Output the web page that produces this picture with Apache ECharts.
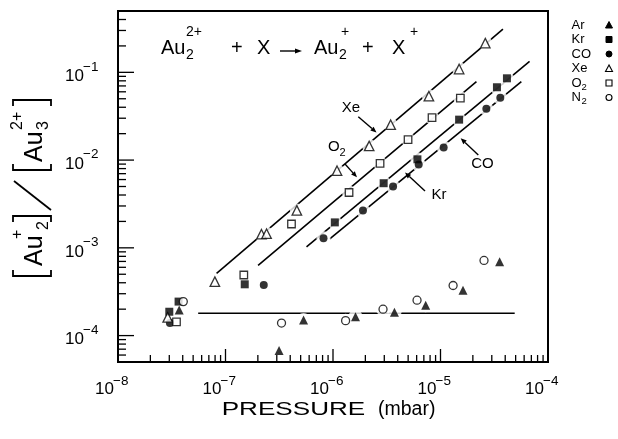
<!DOCTYPE html>
<html><head><meta charset="utf-8">
<script src="https://cdn.jsdelivr.net/npm/echarts@6/dist/echarts.min.js"></script>
<style>html,body{margin:0;padding:0;background:#fff}#c{width:618px;height:439px}</style>
</head><body><div id="c"></div>
<script>
// ---------- data ----------
const xMin = 1e-8, xMax = 1e-4, yMin = 5e-5, yMax = 0.5;
const xMajor = [1e-8, 1e-7, 1e-6, 1e-5, 1e-4];
const xLabelExp = ['−8', '−7', '−6', '−5', '−4'];
const yMajor = [1e-4, 1e-3, 1e-2, 1e-1];
const yLabelExp = ['−4', '−3', '−2', '−1'];
const xDecades = [1e-8, 1e-7, 1e-6, 1e-5];
const yDecades = [1e-5, 1e-4, 1e-3, 1e-2, 1e-1];
const minorMult = [2, 3, 4, 5, 6, 7, 8, 9];

const ArData = [[3.71e-8,1.96e-4],[3.15e-7,6.74e-5],[5.32e-7,1.51e-4],[1.62e-6,1.64e-4],[3.73e-6,1.84e-4],[7.28e-6,2.22e-4],[1.62e-5,3.28e-4],[3.55e-5,6.93e-4]];
const KrData = [[3.0e-8,1.87e-4],[3.66e-8,2.44e-4],[1.51e-7,3.84e-4],[1.04e-6,1.95e-3],[2.96e-6,5.45e-3],[6.1e-6,1.02e-2],[1.49e-5,2.89e-2],[3.35e-5,6.76e-2],[4.15e-5,8.55e-2]];
const COData = [[3.04e-8,1.39e-4],[2.27e-7,3.77e-4],[8.16e-7,1.285e-3],[1.9e-6,2.67e-3],[3.62e-6,4.99e-3],[6.27e-6,8.93e-3],[1.07e-5,1.39e-2],[2.67e-5,3.85e-2],[3.6e-5,5.13e-2]];
const XeData = [[2.9e-8,1.61e-4],[7.96e-8,4.12e-4],[2.16e-7,1.43e-3],[2.41e-7,1.45e-3],[4.61e-7,2.67e-3],[1.09e-6,7.57e-3],[2.17e-6,1.45e-2],[3.44e-6,2.53e-2],[7.8e-6,5.35e-2],[1.49e-5,0.109],[2.61e-5,0.215]];
const O2Data = [[3.5e-8,1.43e-4],[1.48e-7,4.9e-4],[4.11e-7,1.87e-3],[1.41e-6,4.27e-3],[2.74e-6,9.18e-3],[4.99e-6,1.715e-2],[8.34e-6,3.05e-2],[1.53e-5,5.08e-2]];
const N2Data = [[4.05e-8,2.44e-4],[3.32e-7,1.39e-4],[1.31e-6,1.48e-4],[2.92e-6,2.0e-4],[6.05e-6,2.53e-4],[1.31e-5,3.72e-4],[2.54e-5,7.18e-4]];

const XeLine = [[8.26e-8,5.12e-4],[3.81e-5,0.31]];
const O2Line = [[2.01e-7,6.31e-4],[2.16e-5,7.85e-2]];
const KrLine = [[5.67e-7,1.026e-3],[6.74e-5,0.133]];
const COLine = [[9.33e-7,1.265e-3],[5.65e-5,7.85e-2]];
const FlatLine = [[5.57e-8,1.8e-4],[4.9e-5,1.8e-4]];

// ---------- build ----------
const FONT = '"Liberation Sans", Arial, sans-serif';
const ticks = [];
xMajor.forEach(v => ticks.push([v, yMin, 0, 1]));
xDecades.forEach(d => minorMult.forEach(m => ticks.push([d*m, yMin, 0, 0])));
yMajor.forEach(v => ticks.push([xMin, v, 1, 1]));
yDecades.forEach(d => minorMult.forEach(m => { const v = d*m; if (v > yMin*1.01 && v < yMax*0.99) ticks.push([xMin, v, 1, 0]); }));
const labels = [];
xMajor.forEach((v,i) => labels.push([v, yMin, 0, i]));
yMajor.forEach((v,i) => labels.push([xMin, v, 1, i]));

function txt(t, x, y, size, align, extra) {
  return Object.assign({type:'text', x:x, y:y, z:20, silent:true,
    style:{text:t, font:size+'px '+FONT, fill:'#000', textAlign:align||'left', textVerticalAlign:'middle', align:align||'left', verticalAlign:'middle'}}, extra||{});
}
function arrow(x1,y1,x2,y2,head,hw){
  head = head||6; hw = hw||2.5;
  const dx=x2-x1, dy=y2-y1, L=Math.hypot(dx,dy), ux=dx/L, uy=dy/L;
  const bx=x2-ux*head, by=y2-uy*head;
  return [
    {type:'line', z:20, silent:true, shape:{x1:x1,y1:y1,x2:bx,y2:by}, style:{stroke:'#000',lineWidth:1.4}},
    {type:'polygon', z:20, silent:true, shape:{points:[[x2,y2],[bx-uy*hw,by+ux*hw],[bx+uy*hw,by-ux*hw]]}, style:{fill:'#000'}}
  ];
}
function pl(points){ return {type:'polyline', silent:true, shape:{points:points}, style:{stroke:'#000', lineWidth:1.8, fill:null}}; }

const open = {color:'#fff', borderColor:'#000', borderWidth:1.3};
const filled = {color:'#000', borderColor:'#000', borderWidth:0};
function scatter(name, data, symbol, size, style){
  return {name:name, type:'scatter', data:data, symbol:symbol, symbolSize:size, itemStyle:style, z:4, silent:true};
}
function line(data){
  return {type:'line', data:data, symbol:'none', lineStyle:{color:'#000', width:1.6}, z:2, silent:true};
}

const graphic = [];
// equation
graphic.push(txt('Au',161,48,20), txt('2',186,55.5,14), txt('2+',186,32,14), txt('+',231,48,20), txt('X',257,48,20));
graphic.push(...arrow(280,51,302,51,7,2.5));
graphic.push(txt('Au',314,48,20), txt('2',339,55.5,14), txt('+',341,32,14), txt('+',362,48,20), txt('X',392,48,20), txt('+',410,32,14));
// annotations
graphic.push(txt('Xe',351,108,15,'center'), txt('O',328,147,15), txt('2',339.5,153,11), txt('Kr',439,195,15,'center'), txt('CO',482.5,164,15,'center'));
graphic.push(...arrow(358.3,116.7,376.5,132.5), ...arrow(345,164,357,177.3), ...arrow(425,191,405,172.5), ...arrow(478.3,155,460.7,138.3));
// x axis title
graphic.push(txt('PRESSURE',221.7,409.5,18.5,'left',{scaleX:1.41}), txt('(mbar)',378,409.5,19.5));
// y axis title (rotated group)
graphic.push({type:'group', x:32, y:190, rotation:Math.PI/2, z:20, children:[
  pl([[-80,-19],[-86,-19],[-86,19],[-80,19]]),
  txt('Au',-76,3,25), txt('2',-40,12,16), txt('+',-49,-14,16),
  pl([[-32,-19],[-26,-19],[-26,19],[-32,19]]),
  pl([[-20,19],[9,-18]]),
  pl([[26,-19],[20,-19],[20,19],[26,19]]),
  txt('Au',28,3,25), txt('3',60,12,16), txt('2+',60,-14,16),
  pl([[84,-19],[90,-19],[90,19],[84,19]])
]});
// legend
const legRows = [['Ar','','tri',true],['Kr','','sq',true],['CO','','ci',true],['Xe','','tri',false],['O','2','sq',false],['N','2','ci',false]];
const legY = [25,39.5,54,68.5,83,97.5];
legRows.forEach((r,i)=>{
  const y = legY[i];
  graphic.push(txt(r[0],571.5,y,13));
  if (r[1]) graphic.push(txt(r[1],581.5,y+4,9.5));
  const st = r[3] ? {fill:'#000', stroke:'#000', lineWidth:1} : {fill:'#fff', stroke:'#000', lineWidth:1.1};
  if (r[2]==='tri') graphic.push({type:'polygon', z:20, shape:{points:[[609,y-3.5],[605.5,y+3],[612.5,y+3]]}, style:st});
  if (r[2]==='sq') graphic.push({type:'rect', z:20, shape:{x:606,y:y-3,width:6,height:6}, style:st});
  if (r[2]==='ci') graphic.push({type:'circle', z:20, shape:{cx:609,cy:y,r:3}, style:st});
});

const allPts = [].concat(ArData, KrData, COData, XeData, O2Data, N2Data);

const chart = echarts.init(document.getElementById('c'), null, {renderer:'canvas'});
chart.setOption({
  animation:false,
  backgroundColor:'#fff',
  grid:{left:118, right:70, top:11, bottom:77, show:true, borderColor:'#000', borderWidth:2, backgroundColor:'transparent'},
  xAxis:{type:'log', logBase:10, min:xMin, max:xMax, axisLabel:{show:false}, axisTick:{show:false}, splitLine:{show:false}, axisLine:{lineStyle:{color:'#000', width:2}}},
  yAxis:{type:'log', logBase:10, min:yMin, max:yMax, axisLabel:{show:false}, axisTick:{show:false}, splitLine:{show:false}, axisLine:{lineStyle:{color:'#000', width:2}}},
  graphic: graphic,
  series:[
    line(XeLine), line(O2Line), line(KrLine), line(COLine), line(FlatLine),
    {type:'scatter', data:allPts, symbol:'circle', symbolSize:14, itemStyle:{color:'#fff'}, z:3, silent:true},
    scatter('Ar', ArData, 'triangle', 9, filled),
    scatter('Kr', KrData, 'rect', 8, filled),
    scatter('CO', COData, 'circle', 8, filled),
    scatter('Xe', XeData, 'triangle', 9.5, open),
    scatter('O2', O2Data, 'rect', 7.5, open),
    scatter('N2', N2Data, 'circle', 8, open),
    {type:'custom', data:ticks, encode:{x:0,y:1}, z:6, silent:true, clip:false,
      renderItem:function(params, api){
        const p = api.coord([api.value(0), api.value(1)]);
        const isY = api.value(2)===1, major = api.value(3)===1;
        const len = isY ? (major?16:8) : (major?13:7);
        return {type:'line', shape: isY ? {x1:p[0],y1:p[1],x2:p[0]+len,y2:p[1]} : {x1:p[0],y1:p[1],x2:p[0],y2:p[1]-len}, style:{stroke:'#000', lineWidth:1.3}};
      }},
    {type:'custom', data:labels, encode:{x:0,y:1}, z:6, silent:true, clip:false,
      renderItem:function(params, api){
        const p = api.coord([api.value(0), api.value(1)]);
        const isY = api.value(2)===1, idx = api.value(3);
        const st = (t,s,a)=>({text:t, font:s+'px '+FONT, fill:'#000', textAlign:a, align:a, textVerticalAlign:'middle', verticalAlign:'middle'});
        if (!isY) return {type:'group', children:[
          {type:'text', x:p[0]-4, y:p[1]+27, style:st('10',17,'right')},
          {type:'text', x:p[0]-5, y:p[1]+19, style:st(xLabelExp[idx],13.5,'left')}]};
        return {type:'group', children:[
          {type:'text', x:p[0]-34, y:p[1]+4, style:st('10',17,'right')},
          {type:'text', x:p[0]-35, y:p[1]-5.5, style:st(yLabelExp[idx],13.5,'left')}]};
      }}
  ]
});
</script></body></html>
